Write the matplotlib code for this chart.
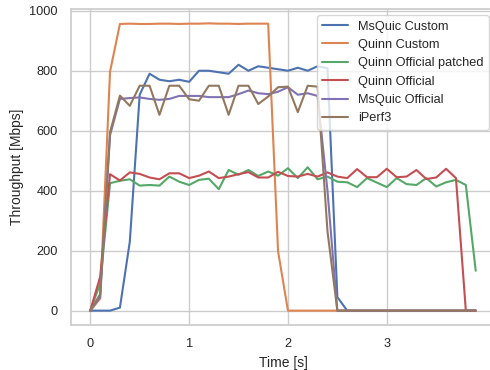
import numpy as np
import matplotlib
matplotlib.use("Agg")
import matplotlib.pyplot as plt
import seaborn as sns

# Sampled every 0.1 s
time_s = np.arange(40) / 10

msquic_custom = [0, 0, 0, 10, 230, 720, 790, 770, 765, 770,
                 763, 800, 800, 795, 790, 820, 800, 815, 810, 805,
                 800, 810, 800, 815, 808, 45, 0, 0, 0, 0,
                 0, 0, 0, 0, 0, 0, 0, 0, 0, 0]
quinn_custom = [0, 40, 797, 956, 957, 956, 956, 957, 957, 956,
                957, 957, 958, 957, 957, 956, 957, 957, 957, 198,
                0, 0, 0, 0, 0, 0, 0, 0, 0, 0,
                0, 0, 0, 0, 0, 0, 0, 0, 0, 0]
quinn_official_patched = [0, 90, 425, 433, 438, 417, 419, 417, 447, 430,
                          419, 436, 440, 405, 469, 453, 469, 449, 464, 450,
                          475, 442, 478, 438, 447, 430, 428, 412, 442, 427,
                          412, 442, 422, 419, 442, 414, 428, 436, 419, 133]
quinn_official = [0, 113, 455, 434, 461, 456, 444, 438, 458, 458,
                  442, 450, 464, 442, 447, 455, 462, 444, 444, 463,
                  449, 447, 456, 447, 461, 447, 442, 472, 445, 445,
                  473, 445, 447, 469, 439, 444, 473, 442, 0, 0]
msquic_official = [0, 45, 585, 706, 709, 711, 706, 703, 706, 716,
                   716, 716, 712, 712, 712, 722, 734, 725, 722, 730,
                   745, 720, 725, 716, 400, 0, 0, 0, 0, 0,
                   0, 0, 0, 0, 0, 0, 0, 0, 0, 0]
iperf3 = [0, 55, 595, 717, 683, 750, 750, 653, 750, 750,
          705, 700, 750, 750, 653, 750, 750, 689, 714, 745,
          747, 662, 750, 747, 265, 0, 0, 0, 0, 0,
          0, 0, 0, 0, 0, 0, 0, 0, 0, 0]

series = [
    ("MsQuic Custom", msquic_custom),
    ("Quinn Custom", quinn_custom),
    ("Quinn Official patched", quinn_official_patched),
    ("Quinn Official", quinn_official),
    ("MsQuic Official", msquic_official),
    ("iPerf3", iperf3),
]

sns.set_theme(style="whitegrid")
plt.rcParams["font.family"] = ["Liberation Sans", "DejaVu Sans"]

fig = plt.figure(figsize=(4.9, 3.7), dpi=100)
ax = fig.add_axes([71 / 490, 45 / 370, 424 / 490, 316 / 370])

for label, values in series:
    ax.plot(time_s, values, label=label, linewidth=1.5)

ax.set_xlabel("Time [s]", fontsize=10)
ax.set_ylabel("Throughput [Mbps]", fontsize=10)
ax.set_xticks([0, 1, 2, 3])
ax.set_yticks([0, 200, 400, 600, 800, 1000])
ax.tick_params(labelsize=9.2)
ax.legend(loc="upper right", fontsize=9.2)

fig.savefig("out.png", dpi=100)
